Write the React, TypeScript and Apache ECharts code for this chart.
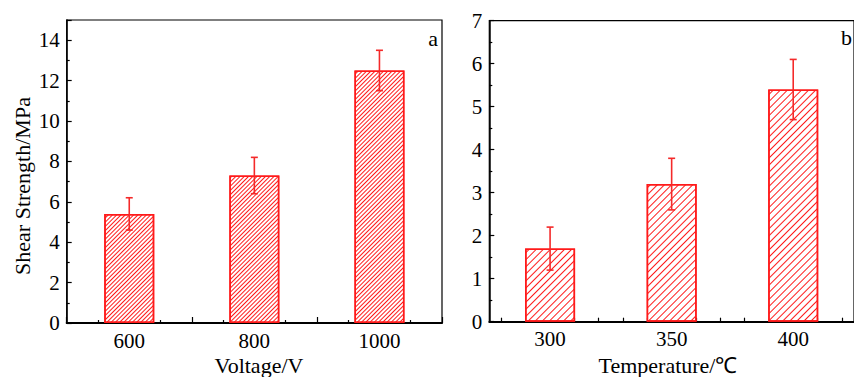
import React, { useEffect, useRef } from "react";
import * as echarts from "echarts";

const voltages = [600, 800, 1000];
const strengthA = [5.4, 7.3, 12.5];
const errA = [0.8, 0.9, 1.0];

const temps = [300, 350, 400];
const strengthB = [1.7, 3.2, 5.4];
const errB = [0.5, 0.6, 0.7];

const FONT = "'Liberation Serif', 'Times New Roman', serif";
const RED = "#ff1a1a";

function errSeries(xIdx: number, xs: number[], ys: number[], es: number[]) {
  return {
    type: "custom",
    xAxisIndex: xIdx,
    yAxisIndex: xIdx,
    z: 5,
    data: xs.map((x, i) => [x, ys[i] - es[i], ys[i] + es[i]]),
    encode: { x: 0, y: [1, 2] },
    renderItem: (params: any, api: any) => {
      const x = api.value(0);
      const lo = api.coord([x, api.value(1)]);
      const hi = api.coord([x, api.value(2)]);
      const w = 3.5;
      const style = { stroke: "#f42a2a", lineWidth: 1.6 };
      return {
        type: "group",
        children: [
          { type: "line", shape: { x1: lo[0], y1: lo[1], x2: hi[0], y2: hi[1] }, style },
          { type: "line", shape: { x1: hi[0] - w, y1: hi[1], x2: hi[0] + w, y2: hi[1] }, style },
          { type: "line", shape: { x1: lo[0] - w, y1: lo[1], x2: lo[0] + w, y2: lo[1] }, style },
        ],
      };
    },
  };
}

function barSeries(xIdx: number, xs: number[], ys: number[], gap: number) {
  return {
    type: "bar",
    xAxisIndex: xIdx,
    yAxisIndex: xIdx,
    barWidth: 50,
    z: 3,
    data: xs.map((x, i) => [x, ys[i]]),
    itemStyle: {
      color: "#ffffff",
      borderColor: RED,
      borderWidth: 1.5,
      decal: {
        symbol: "rect",
        symbolSize: 1,
        color: RED,
        backgroundColor: "#ffffff",
        dashArrayX: [1, 0],
        dashArrayY: [1, gap],
        rotation: -Math.PI / 4,
      },
    },
  };
}

export default function App() {
  const ref = useRef<HTMLDivElement>(null);
  useEffect(() => {
    if (!ref.current) return;
    const chart = echarts.init(ref.current, null, { renderer: "svg" });
    const axisLabel = { color: "#000", fontFamily: FONT, fontSize: 21 };
    const axisLine = { show: true, lineStyle: { color: "#000", width: 2 } };
    chart.setOption({
      animation: false,
      backgroundColor: "#fff",
      grid: [
        { left: 66.7, top: 20, width: 375.3, height: 303, show: true, borderColor: "#000", borderWidth: 1.2, backgroundColor: "transparent" },
        { left: 489.3, top: 20.7, width: 373, height: 301, show: true, borderColor: "#000", borderWidth: 1.2, backgroundColor: "transparent" },
      ],
      xAxis: [
        {
          type: "value",
          gridIndex: 0,
          min: 500,
          max: 1100,
          interval: 100,
          axisLine,
          axisTick: { show: true, inside: true, length: 6, lineStyle: { color: "#000", width: 1.2 } },
          minorTick: { show: true, splitNumber: 2, length: 3, lineStyle: { color: "#000", width: 1.2 } },
          splitLine: { show: false },
          axisLabel: {
            ...axisLabel,
            margin: 7,
            formatter: (v: number) => (voltages.includes(v) ? String(v) : ""),
          },
        },
        {
          type: "value",
          gridIndex: 1,
          min: 275,
          max: 425,
          axisLine,
          axisTick: {
            show: true,
            inside: true,
            length: 4,
            lineStyle: { color: "#000", width: 1.2 },
            customValues: [280, 290, 300, 310, 320, 330, 340, 350, 360, 370, 380, 390, 400, 410, 420],
          },
          splitLine: { show: false },
          axisLabel: { ...axisLabel, margin: 7, customValues: temps },
        },
      ],
      yAxis: [
        {
          type: "value",
          gridIndex: 0,
          min: 0,
          max: 15,
          interval: 2,
          axisLine: { show: true, lineStyle: { color: "#000", width: 1.5 } },
          axisTick: { show: true, inside: true, length: 5, lineStyle: { color: "#000", width: 1.2 } },
          minorTick: { show: true, splitNumber: 2, length: 3, lineStyle: { color: "#000", width: 1.2 } },
          splitLine: { show: false },
          axisLabel: { ...axisLabel, margin: 7, showMaxLabel: false },
        },
        {
          type: "value",
          gridIndex: 1,
          min: 0,
          max: 7,
          interval: 1,
          axisLine: { show: true, lineStyle: { color: "#000", width: 1.5 } },
          axisTick: { show: true, inside: true, length: 5, lineStyle: { color: "#000", width: 1.2 } },
          minorTick: { show: true, splitNumber: 2, length: 3, lineStyle: { color: "#000", width: 1.2 } },
          splitLine: { show: false },
          axisLabel: { ...axisLabel, margin: 7 },
        },
      ],
      series: [
        barSeries(0, voltages, strengthA, 1.2),
        errSeries(0, voltages, strengthA, errA),
        barSeries(1, temps, strengthB, 3.2),
        errSeries(1, temps, strengthB, errB),
      ],
      graphic: [
        {
          type: "text",
          x: 22,
          y: 186,
          rotation: Math.PI / 2,
          style: { text: "Shear Strength/MPa", fontFamily: FONT, fontSize: 22, fill: "#000", align: "center", verticalAlign: "middle" },
        },
        {
          type: "text",
          x: 259,
          y: 365,
          style: { text: "Voltage/V", fontFamily: FONT, fontSize: 22, fill: "#000", align: "center", verticalAlign: "middle" },
        },
        {
          type: "text",
          x: 668,
          y: 365,
          style: { text: "Temperature/℃", fontFamily: FONT, fontSize: 22, fill: "#000", align: "center", verticalAlign: "middle" },
        },
        {
          type: "text",
          x: 433,
          y: 38,
          style: { text: "a", fontFamily: FONT, fontSize: 22, fill: "#000", align: "center", verticalAlign: "middle" },
        },
        {
          type: "text",
          x: 841,
          y: 37,
          style: { text: "b", fontFamily: FONT, fontSize: 22, fill: "#000", align: "left", verticalAlign: "middle" },
        },
      ],
    });
    return () => chart.dispose();
  }, []);
  return <div ref={ref} style={{ width: 854, height: 377, position: "absolute", left: 0, top: 0 }} />;
}
